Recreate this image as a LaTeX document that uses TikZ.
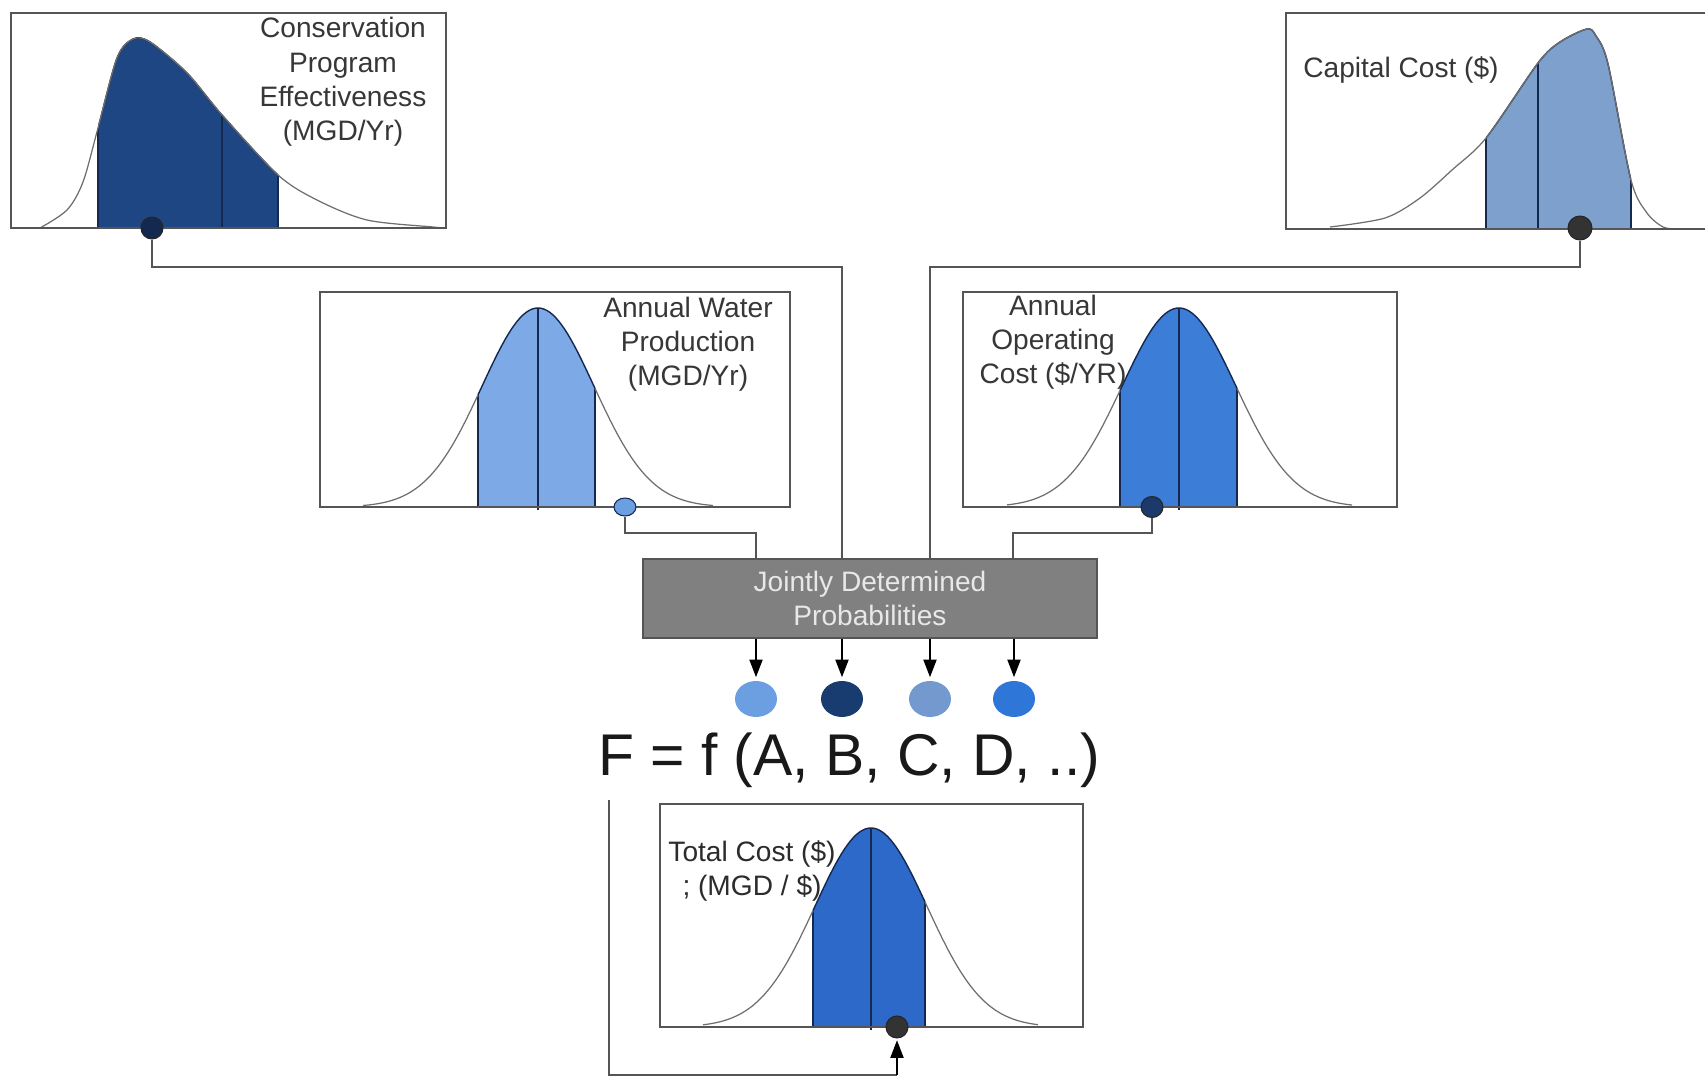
\documentclass[tikz,border=0pt]{standalone}
\usepackage{fontspec}
\setmainfont{Liberation Sans}
\usetikzlibrary{arrows.meta,shapes.geometric}
\definecolor{framegray}{RGB}{85,85,85}
\definecolor{curvegray}{RGB}{110,110,110}
\definecolor{navyln}{RGB}{20,40,80}
\definecolor{textgray}{RGB}{55,55,55}
\definecolor{cA}{RGB}{30,70,130}
\definecolor{cC}{RGB}{125,160,205}
\definecolor{cW}{RGB}{125,170,230}
\definecolor{cD}{RGB}{60,125,215}
\definecolor{cT}{RGB}{45,105,200}
\definecolor{cc1}{RGB}{107,159,226}
\definecolor{cc2}{RGB}{24,59,112}
\definecolor{cc3}{RGB}{115,153,207}
\definecolor{cc4}{RGB}{47,118,217}
\definecolor{jfill}{RGB}{128,128,128}
\definecolor{jtext}{RGB}{232,232,232}
\newcommand\gaussdist[9]{%
 \fill[#9] plot[domain=#5:#6,samples=40] (\x,{#2-#3*exp(-0.5*((\x-#1)/#4)*((\x-#1)/#4))}) -- (#6,#2) -- (#5,#2) -- cycle;
 \draw[edgeln] (#5,#2) -- (#5,{#2-#3*exp(-0.5*((#5-#1)/#4)*((#5-#1)/#4))});
 \draw[edgeln] (#6,#2) -- (#6,{#2-#3*exp(-0.5*((#6-#1)/#4)*((#6-#1)/#4))});
 \draw[edgeln] (#1,#2+3) -- (#1,{#2-#3});
 \draw[edgeln] plot[domain=#5:#6,samples=40] (\x,{#2-#3*exp(-0.5*((\x-#1)/#4)*((\x-#1)/#4))});
 \draw[curveln] plot[domain=#7:#5,samples=40] (\x,{#2-#3*exp(-0.5*((\x-#1)/#4)*((\x-#1)/#4))});
 \draw[curveln] plot[domain=#6:#8,samples=40] (\x,{#2-#3*exp(-0.5*((\x-#1)/#4)*((\x-#1)/#4))});
}
\begin{document}
\begin{tikzpicture}[x=0.02cm,y=-0.02cm,
  frame/.style={draw=framegray,line width=1.1pt},
  curveln/.style={draw=curvegray,line width=0.7pt},
  edgeln/.style={draw=navyln,line width=0.8pt},
  conn/.style={draw=framegray,line width=0.8pt},
  lbl/.style={text=textgray,font=\fontsize{16}{19.5}\selectfont,align=center,inner sep=0pt},
  dotn/.style={ellipse,inner sep=0pt,draw=black!85,line width=0.6pt},
  cdot/.style={ellipse,inner sep=0pt,minimum width=0.84cm,minimum height=0.72cm},
  arr/.style={draw=black,line width=0.8pt,-{Triangle[length=10pt,width=7.5pt]}},
  jbox/.style={rectangle,fill=jfill,draw=framegray,line width=1.1pt,minimum width=9.08cm,minimum height=1.58cm,text=jtext,align=center,font=\fontsize{16}{19}\selectfont}
]
\useasboundingbox (0,0) rectangle (1705,1078);
\clip (0,0) rectangle (1705,1078);
\fill[white] (0,0) rectangle (1705,1078);

% ---------- Conservation Program Effectiveness ----------
\begin{scope}
 \clip (98,0) rectangle (278,229);
 \fill[cA] plot[smooth] coordinates {(40,228) (67,210) (83,182) (98,128) (117,58) (133,39) (150,42) (187,73) (222,115) (278,175) (317,200) (367,220) (433,227) (445,228)} -- cycle;
 \draw[edgeln] plot[smooth] coordinates {(40,228) (67,210) (83,182) (98,128) (117,58) (133,39) (150,42) (187,73) (222,115) (278,175) (317,200) (367,220) (433,227) (445,228)};
\end{scope}
\begin{scope}
 \clip plot[smooth] coordinates {(40,228) (67,210) (83,182) (98,128) (117,58) (133,39) (150,42) (187,73) (222,115) (278,175) (317,200) (367,220) (433,227) (445,228)} -- cycle;
 \draw[edgeln] (98,229) -- (98,0) (222,229) -- (222,0) (278,229) -- (278,0);
\end{scope}
\draw[curveln] plot[smooth] coordinates {(40,228) (67,210) (83,182) (98,128) (117,58) (133,39) (150,42) (187,73) (222,115) (278,175) (317,200) (367,220) (433,227) (445,228)};
\draw[frame] (11,13) rectangle (446,228);
\node[lbl] (tA) at (343,82) {Conservation\\Program\\Effectiveness\\(MGD/Yr)};
\node[dotn,fill=navyln,minimum width=0.44cm,minimum height=0.44cm] (dA) at (152,228) {};

% ---------- Capital Cost ----------
\begin{scope}
 \clip (1486,0) rectangle (1631,230);
 \fill[cC] plot[smooth] coordinates {(1330,227) (1385,218) (1420,198) (1452,170) (1486,138) (1538,63) (1560,42) (1587,29) (1596,36) (1608,64) (1631,180) (1647,213) (1663,227) (1677,229)} -- cycle;
 \draw[edgeln] plot[smooth] coordinates {(1330,227) (1385,218) (1420,198) (1452,170) (1486,138) (1538,63) (1560,42) (1587,29) (1596,36) (1608,64) (1631,180) (1647,213) (1663,227) (1677,229)};
\end{scope}
\begin{scope}
 \clip plot[smooth] coordinates {(1330,227) (1385,218) (1420,198) (1452,170) (1486,138) (1538,63) (1560,42) (1587,29) (1596,36) (1608,64) (1631,180) (1647,213) (1663,227) (1677,229)} -- cycle;
 \draw[edgeln] (1486,230) -- (1486,0) (1538,230) -- (1538,0) (1631,230) -- (1631,0);
\end{scope}
\draw[curveln] plot[smooth] coordinates {(1330,227) (1385,218) (1420,198) (1452,170) (1486,138) (1538,63) (1560,42) (1587,29) (1596,36) (1608,64) (1631,180) (1647,213) (1663,227) (1677,229)};
\draw[frame] (1720,13) -- (1286,13) -- (1286,229) -- (1720,229);
\node[lbl,anchor=west] (tC) at (1303,70) {Capital Cost (\$)};
\node[dotn,fill=black!80,minimum width=0.48cm,minimum height=0.48cm] (dC) at (1580,228) {};

% ---------- Annual Water Production ----------
\gaussdist{538}{507}{199}{56}{478}{595}{363}{713}{cW}
\draw[frame] (320,292) rectangle (790,507);
\node[lbl] (tW) at (688,344) {Annual Water\\Production\\(MGD/Yr)};
\node[dotn,fill=cc1,draw=navyln,minimum width=0.44cm,minimum height=0.36cm] (dW) at (625,507) {};

% ---------- Annual Operating Cost ----------
\gaussdist{1179}{507}{199}{57}{1120}{1237}{1007}{1352}{cD}
\draw[frame] (963,292) rectangle (1397,507);
\node[lbl] (tD) at (1053,342) {Annual\\Operating\\Cost (\$/YR)};
\node[dotn,fill=navyln!80!cD,minimum width=0.44cm,minimum height=0.42cm] (dD) at (1152,507) {};

% ---------- Jointly Determined Probabilities ----------
\node[jbox] (jp) at (870,598.5) {Jointly Determined\\Probabilities};
\coordinate (inA) at (756,559);
\coordinate (inB) at (842,559);
\coordinate (inC) at (930,559);
\coordinate (inD) at (1013,559);
\coordinate (kA) at (756,533);
\coordinate (kB) at (842,267);
\coordinate (kC) at (930,267);
\coordinate (kD) at (1013,533);
\draw[conn] (dW.south) |- (kA) -- (inA);
\draw[conn] (dA.south) |- (kB) -- (inB);
\draw[conn] (dC.south) |- (kC) -- (inC);
\draw[conn] (dD.south) |- (kD) -- (inD);

% ---------- circles ----------
\node[cdot,fill=cc1] (c1) at (756,699) {};
\node[cdot,fill=cc2] (c2) at (842,699) {};
\node[cdot,fill=cc3] (c3) at (930,699) {};
\node[cdot,fill=cc4] (c4) at (1014,699) {};
\draw[arr,shorten >=2pt] (jp.south -| c1) -- (c1.north);
\draw[arr,shorten >=2pt] (jp.south -| c2) -- (c2.north);
\draw[arr,shorten >=2pt] (jp.south -| c3) -- (c3.north);
\draw[arr,shorten >=2pt] (jp.south -| c4) -- (c4.north);

% ---------- formula ----------
\node[anchor=base,inner sep=0pt,text=black!90,font=\fontsize{33.5}{40}\selectfont] (fx) at (849,775) {F = f (A, B, C, D, ..)};

% ---------- Total Cost ----------
\gaussdist{871}{1027}{199}{56}{813}{925}{703}{1038}{cT}
\draw[frame] (660,804) rectangle (1083,1027);
\node[lbl,text=textgray!80!black] (tT) at (752,871) {Total Cost (\$)\\; (MGD / \$)};
\node[dotn,fill=black!80,minimum width=0.44cm,minimum height=0.44cm] (dT) at (897,1027) {};
\coordinate (fb0) at (609,800);
\coordinate (fb1) at (609,1075);
\coordinate (fb2) at (897,1075);
\draw[conn] (fb0) -- (fb1) -- (fb2);
\draw[arr,shorten >=1pt] (fb2) -- (dT.south);
\end{tikzpicture}
\end{document}
